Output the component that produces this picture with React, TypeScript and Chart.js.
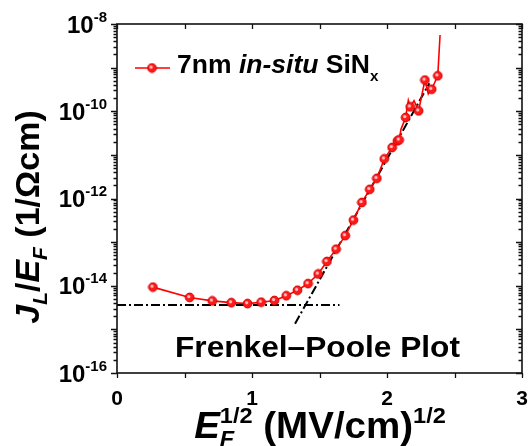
import React, { useEffect, useRef } from "react";
import { Chart, registerables } from "chart.js";

Chart.register(...registerables);

// E_F^{1/2} in (MV/cm)^{1/2}
const fieldRoot = [
  0.266, 0.538, 0.706, 0.847, 0.967, 1.068, 1.166, 1.254, 1.337, 1.415,
  1.49, 1.555, 1.623, 1.691, 1.751, 1.814, 1.872, 1.925, 1.98, 2.038,
  2.077, 2.09, 2.104, 2.138, 2.158, 2.172, 2.2, 2.234, 2.281, 2.306,
  2.331, 2.376, 2.393,
];
// J_L / E_F in 1/(Ohm cm)
const leakage = [
  9.3e-15, 5.4e-15, 4.5e-15, 4.1e-15, 3.9e-15, 4.2e-15, 4.6e-15, 5.9e-15, 7.9e-15, 1.12e-14,
  1.86e-14, 3.6e-14, 6.9e-14, 1.41e-13, 3.2e-13, 8.1e-13, 1.62e-12, 2.9e-12, 8.1e-12, 1.48e-11,
  2.1e-11, 2.2e-11, 3.9e-11, 7.2e-11, 1.78e-10, 1.26e-10, 1.74e-10, 1.02e-10, 5.2e-10, 2.5e-10,
  3.2e-10, 6.5e-10, 5.6e-9,
];
// which samples carry a symbol
const hasSymbol = [
  1, 1, 1, 1, 1, 1, 1, 1, 1, 1,
  1, 1, 1, 1, 1, 1, 1, 1, 1, 1,
  1, 1, 0, 1, 0, 1, 0, 1, 1, 0,
  1, 1, 0,
];

// Dash-dot guide lines: low-field plateau and Frenkel-Poole slope
const plateauX = [0, 1.648];
const plateauY = [3.6e-15, 3.6e-15];
const slopeX = [1.319, 2.314];
const slopeY = [1.35e-15, 4.4e-10];

const xTickValues = [0, 1, 2, 3];
const xTickMarks = [0, 0.5, 1, 1.5, 2, 2.5, 3];
const yLabelExponents = [-16, -14, -12, -10, -8];

const FONT = '"Liberation Sans", Arial, Helvetica, sans-serif';

type Run = { t: string; size: number; italic?: boolean; dy?: number; stay?: boolean };

function fontOf(r: Run) {
  return `${r.italic ? "italic " : ""}bold ${r.size}px ${FONT}`;
}

function runsWidth(ctx: CanvasRenderingContext2D, runs: Run[]) {
  let w = 0;
  for (const r of runs) {
    ctx.font = fontOf(r);
    if (!r.stay) w += ctx.measureText(r.t).width;
  }
  return w;
}

function drawRuns(ctx: CanvasRenderingContext2D, runs: Run[], x: number, y: number, sx = 1) {
  ctx.save();
  ctx.translate(x, y);
  ctx.scale(sx, 1);
  ctx.textAlign = "left";
  ctx.textBaseline = "alphabetic";
  let cx = 0;
  for (const r of runs) {
    ctx.font = fontOf(r);
    ctx.fillText(r.t, cx, r.dy || 0);
    if (!r.stay) cx += ctx.measureText(r.t).width;
  }
  ctx.restore();
}

function makeBall(): HTMLCanvasElement {
  const c = document.createElement("canvas");
  c.width = 11;
  c.height = 11;
  const g = c.getContext("2d")!;
  g.beginPath();
  g.arc(5.5, 5.5, 4.4, 0, Math.PI * 2);
  g.fillStyle = "#ff1a1a";
  g.fill();
  g.lineWidth = 1;
  g.strokeStyle = "#d00000";
  g.stroke();
  g.beginPath();
  g.arc(4.6, 4.6, 1.6, 0, Math.PI * 2);
  g.fillStyle = "#ffc8c8";
  g.fill();
  return c;
}

export default function App() {
  const ref = useRef<HTMLCanvasElement | null>(null);

  useEffect(() => {
    const canvas = ref.current;
    if (!canvas) return;
    const ball = makeBall();

    const frame = {
      id: "frame",
      afterDraw(chart: any) {
        const ctx: CanvasRenderingContext2D = chart.ctx;
        const { left, right, top, bottom } = chart.chartArea;
        const xs = chart.scales.x;
        const ys = chart.scales.y;
        ctx.save();
        ctx.fillStyle = "#000";
        ctx.strokeStyle = "#111";

        // plot frame
        ctx.lineWidth = 1.6;
        ctx.strokeRect(left, top, right - left, bottom - top);

        // x ticks: bottom outward, top inward (both point down)
        ctx.lineWidth = 1.3;
        for (const v of xTickMarks) {
          const px = Math.round(xs.getPixelForValue(v)) + 0.5;
          ctx.beginPath();
          ctx.moveTo(px, bottom);
          ctx.lineTo(px, bottom + 5);
          ctx.moveTo(px, top);
          ctx.lineTo(px, top + 5);
          ctx.stroke();
        }
        // y ticks: left outward, right inward (both point left)
        for (let e = -16; e <= -8; e++) {
          for (let m = 1; m <= 9; m++) {
            if (e === -8 && m > 1) break;
            const py = Math.round(ys.getPixelForValue(m * Math.pow(10, e))) + 0.5;
            const len = m === 1 ? 6 : 3.5;
            ctx.beginPath();
            ctx.moveTo(left, py);
            ctx.lineTo(left - len, py);
            ctx.moveTo(right, py);
            ctx.lineTo(right - len, py);
            ctx.stroke();
          }
        }

        // x tick labels
        ctx.font = `bold 21px ${FONT}`;
        ctx.textAlign = "center";
        ctx.textBaseline = "alphabetic";
        for (const v of xTickValues) {
          ctx.fillText(String(v), xs.getPixelForValue(v), 405);
        }

        // y tick labels 10^n
        for (const e of yLabelExponents) {
          const py = ys.getPixelForValue(Math.pow(10, e));
          const runs: Run[] = [
            { t: "10", size: 24 },
            { t: String(e), size: 15, dy: -11 },
          ];
          const w = runsWidth(ctx, runs);
          drawRuns(ctx, runs, 107 - w, py + 8.5);
        }

        // x axis title
        const xTitle: Run[] = [
          { t: "E", size: 36, italic: true },
          { t: "F", size: 22, italic: true, dy: 8, stay: true },
          { t: "1/2", size: 22, dy: -15 },
          { t: " (MV/cm)", size: 36 },
          { t: "1/2", size: 22, dy: -15 },
        ];
        const xsx = 1.07;
        const xw = runsWidth(ctx, xTitle) * xsx;
        drawRuns(ctx, xTitle, 320 - xw / 2, 438, xsx);

        // y axis title (rotated)
        const yTitle: Run[] = [
          { t: "J", size: 34, italic: true },
          { t: "L", size: 21, italic: true, dy: 8 },
          { t: "/", size: 34 },
          { t: "E", size: 34, italic: true },
          { t: "F", size: 21, italic: true, dy: 8 },
          { t: " (1/\u03A9cm)", size: 34 },
        ];
        const yw = runsWidth(ctx, yTitle);
        ctx.save();
        ctx.translate(39, 217);
        ctx.rotate(-Math.PI / 2);
        drawRuns(ctx, yTitle, -yw / 2, 0);
        ctx.restore();

        // legend
        ctx.strokeStyle = "#ff0000";
        ctx.lineWidth = 1.6;
        ctx.beginPath();
        ctx.moveTo(135, 68);
        ctx.lineTo(170, 68);
        ctx.stroke();
        ctx.drawImage(ball, 152 - 5.5, 68 - 5.5);
        ctx.fillStyle = "#000";
        drawRuns(
          ctx,
          [
            { t: "7nm ", size: 26 },
            { t: "in-situ", size: 26, italic: true },
            { t: " SiN", size: 26 },
            { t: "x", size: 15, dy: 8 },
          ],
          177,
          73,
          1.02
        );

        // annotation
        drawRuns(ctx, [{ t: "Frenkel\u2013Poole Plot", size: 30 }], 175, 357, 1.055);

        ctx.restore();
      },
    };

    const chart = new Chart(canvas, {
      type: "line",
      data: {
        datasets: [
          {
            label: "7nm in-situ SiNx",
            data: fieldRoot.map((x, i) => ({ x, y: leakage[i] })),
            borderColor: "#ff0000",
            borderWidth: 1.6,
            pointStyle: ball as any,
            pointRadius: hasSymbol.map((s) => (s ? 4.5 : 0)),
            tension: 0,
            order: 1,
          },
          {
            label: "plateau",
            data: plateauX.map((x, i) => ({ x, y: plateauY[i] })),
            borderColor: "#000",
            borderWidth: 2,
            borderDash: [9, 3, 2, 3],
            pointRadius: 0,
            order: 2,
          },
          {
            label: "slope",
            data: slopeX.map((x, i) => ({ x, y: slopeY[i] })),
            borderColor: "#000",
            borderWidth: 2,
            borderDash: [9, 3, 2, 3],
            pointRadius: 0,
            order: 2,
          },
        ],
      },
      options: {
        animation: false,
        responsive: false,
        devicePixelRatio: 1,
        layout: { padding: { left: 117, right: 10, top: 24, bottom: 73 } },
        plugins: { legend: { display: false }, tooltip: { enabled: false } },
        scales: {
          x: { type: "linear", min: 0, max: 3, display: false },
          y: { type: "logarithmic", min: 1e-16, max: 1e-8, display: false },
        },
      },
      plugins: [frame],
    });

    return () => chart.destroy();
  }, []);

  return (
    <div style={{ position: "fixed", left: 0, top: 0, width: 532, height: 446, background: "#fff" }}>
      <canvas ref={ref} width={532} height={446} style={{ display: "block" }} />
    </div>
  );
}
